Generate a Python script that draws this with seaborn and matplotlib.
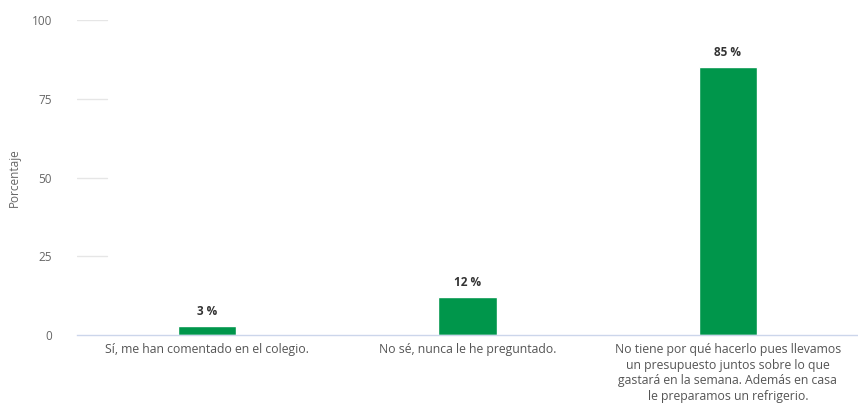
import matplotlib
matplotlib.use("Agg")
import matplotlib.pyplot as plt
import seaborn as sns
import pandas as pd

# Données
categorias = [
    "Sí, me han comentado en el colegio.",
    "No sé, nunca le he preguntado.",
    "No tiene por qué hacerlo pues llevamos\nun presupuesto juntos sobre lo que\ngastará en la semana. Además en casa\nle preparamos un refrigerio.",
]
porcentajes = [3, 12, 85]
y_ticks = [0, 25, 50, 75, 100]

df = pd.DataFrame({"categoria": categorias, "porcentaje": porcentajes})

sns.set_style("white")
plt.rcParams['font.family'] = ['Open Sans', 'DejaVu Sans']

fig = plt.figure(figsize=(8.58, 4.09), dpi=100)
ax = fig.add_axes([0.0897, 0.181, 0.9103, 0.770])

sns.barplot(data=df, x="categoria", y="porcentaje", color="#00964b",
            width=0.225, saturation=1, ax=ax)

# Étiquettes de valeur
for i, v in enumerate(porcentajes):
    ax.text(i, v + 2.5, f"{v} %", ha="center", va="bottom",
            fontsize=8.5, fontweight="bold", color="#333333")

ax.set_ylim(0, 100)
ax.set_xlim(-0.5, 2.5)
ax.set_yticks(y_ticks)
ax.set_yticklabels([str(t) for t in y_ticks], color="#666666", fontsize=8.5)
ax.tick_params(axis="y", length=0, pad=18)
ax.tick_params(axis="x", length=0, pad=6, labelsize=8.8, labelcolor="#555555")
for lbl in ax.get_xticklabels():
    lbl.set_verticalalignment("top")
    lbl.set_linespacing(1.25)

# Lignes de grille courtes
for t in y_ticks[1:]:
    ax.axhline(t, xmin=0, xmax=0.038, color="#e6e6e6", linewidth=1, zorder=0)

ax.set_xlabel("")
ax.set_ylabel("Porcentaje", color="#666666", fontsize=8.5, labelpad=8)

for s in ["top", "right", "left"]:
    ax.spines[s].set_visible(False)
ax.spines["bottom"].set_color("#ccd6eb")
ax.spines["bottom"].set_linewidth(1)

fig.savefig("out.png", dpi=100)
